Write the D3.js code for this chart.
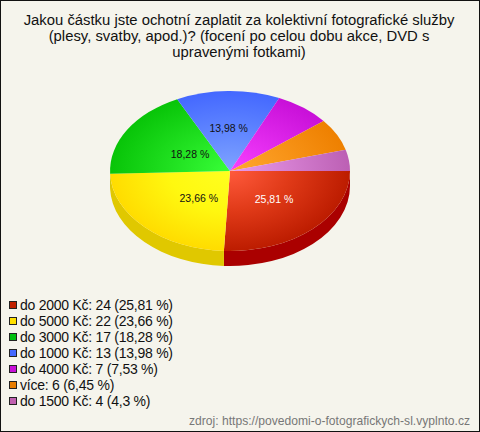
<!DOCTYPE html>
<html><head><meta charset="utf-8">
<script src="https://cdn.jsdelivr.net/npm/d3@7/dist/d3.min.js"></script>
<style>html,body{margin:0;padding:0;background:#f5f4ec}svg{display:block}text{font-family:"Liberation Sans",Arial,sans-serif}</style>
</head><body>
<script>
const titleLines = ["Jakou částku jste ochotní zaplatit za kolektivní fotografické služby","(plesy, svatby, apod.)? (focení po celou dobu akce, DVD s","upravenými fotkami)"];
const categories = ["do 2000 Kč","do 5000 Kč","do 3000 Kč","do 1000 Kč","do 4000 Kč","více","do 1500 Kč"];
const counts = [24,22,17,13,7,6,4];
const percents = ["25,81","23,66","18,28","13,98","7,53","6,45","4,3"];
const legendColors = ["#c02000","#ffe000","#00c010","#4468ff","#c810d8","#e87c00","#c060b0"];
const innerColors = ["#ff5a3c","#ffff20","#38ff38","#80a4ff","#f840ff","#ffa830","#e89cec"];
const midColors = ["#e03a18","#fff810","#20e020","#6086ff","#e028ec","#f89418","#d47ed0"];
const outerColors = ["#bc1c00","#ffdc00","#08c408","#4468ff","#c810d8","#ee8000","#bc60b4"];
const sideColors = ["#aa0000","#e0c800","#008000","#2040c0","#900090","#b06000","#804080"];
const sliceLabels = ["25,81 %","23,66 %","18,28 %","13,98 %"];
const labelColors = ["#fff","#111","#111","#111"];
const labelPos = [[0.367,0.35],[-0.26,0.3375],[-0.333,-0.2125],[-0.011,-0.5375]];
const source = "zdroj: https://povedomi-o-fotografickych-sl.vyplnto.cz";

const W=480,H=432,cx=230,cy=171,rx=120,ry=80,depth=15;
const svg=d3.select("body").append("svg").attr("width",W).attr("height",H);
svg.append("rect").attr("x",.5).attr("y",.5).attr("width",W-1).attr("height",H-1).attr("fill","#f5f4ec").attr("stroke","#111");
svg.append("g").selectAll("text").data(titleLines).join("text")
  .attr("x",239).attr("y",(d,i)=>25+i*16).attr("text-anchor","middle").attr("font-size",14.85).attr("fill","#111").text(d=>d);

const pie=d3.pie().sort(null).value(d=>d).startAngle(Math.PI/2).endAngle(Math.PI*2.5);
const arcs=pie(counts);
const defs=svg.append("defs");
arcs.forEach((a,i)=>{
  const g=defs.append("radialGradient").attr("id","g"+i).attr("gradientUnits","userSpaceOnUse")
    .attr("cx",0).attr("cy",0).attr("r",1);
  g.append("stop").attr("offset",0).attr("stop-color",innerColors[i]);
  g.append("stop").attr("offset",.5).attr("stop-color",midColors[i]);
  g.append("stop").attr("offset",1).attr("stop-color",outerColors[i]);
});
const pt=(t,dy=0)=>[cx+rx*Math.sin(t),cy-ry*Math.cos(t)+dy];
const side=svg.append("g");
arcs.forEach((a,i)=>{
  const s=Math.max(a.startAngle,Math.PI/2),e=Math.min(a.endAngle,Math.PI*1.5);
  if(e<=s) return;
  const p0=pt(s),p1=pt(e),p2=pt(e,depth),p3=pt(s,depth);
  side.append("path").attr("fill",sideColors[i])
    .attr("d",`M${p0}A${rx},${ry} 0 0 1 ${p1}L${p2}A${rx},${ry} 0 0 0 ${p3}Z`);
});
const arc=d3.arc().innerRadius(0).outerRadius(1);
svg.append("g").attr("transform",`translate(${cx},${cy}) scale(${rx},${ry})`)
  .selectAll("path").data(arcs).join("path").attr("d",arc).attr("fill",(d,i)=>`url(#g${i})`);
sliceLabels.forEach((t,i)=>{
  svg.append("text").attr("x",cx+labelPos[i][0]*rx).attr("y",cy+labelPos[i][1]*ry+4)
   .attr("text-anchor","middle").attr("font-size",10.5).attr("fill",labelColors[i]).text(t);
});
const leg=svg.append("g").selectAll("g").data(categories).join("g").attr("transform",(d,i)=>`translate(0,${305+i*16})`);
leg.append("rect").attr("x",9.5).attr("y",-3.5).attr("width",7).attr("height",7).attr("fill",(d,i)=>legendColors[i]).attr("stroke","#222");
leg.append("text").attr("x",20).attr("y",5).attr("font-size",14).attr("letter-spacing",-0.25).attr("fill","#111")
  .text((d,i)=>`${d}: ${counts[i]} (${percents[i]} %)`);
svg.append("text").attr("x",470).attr("y",425).attr("text-anchor","end").attr("font-size",12.1).attr("fill","#777").text(source);
</script>
</body></html>
